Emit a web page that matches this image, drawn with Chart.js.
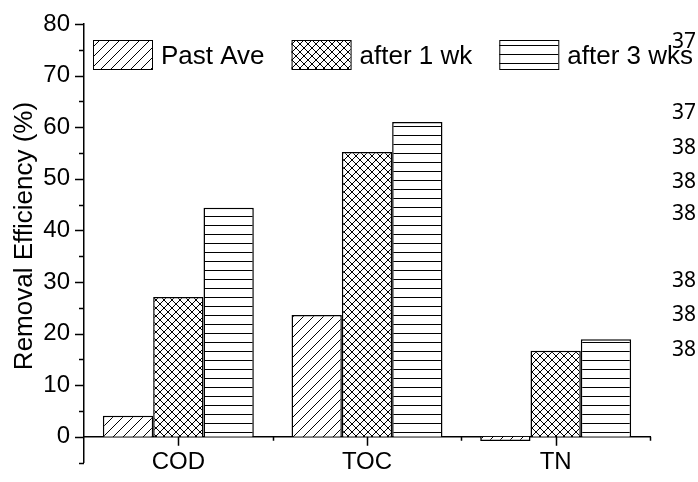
<!doctype html>
<html lang="en">
<head>
<meta charset="utf-8">
<title>Removal Efficiency</title>
<style>
  html, body { margin: 0; padding: 0; background: #fff; }
  canvas { display: block; }
</style>
</head>
<body>
<canvas id="myChart" width="698" height="482"></canvas>
<script src="https://cdn.jsdelivr.net/npm/chart.js@4.4.0/dist/chart.umd.min.js"></script>
<script>
// data
var categories = ['COD', 'TOC', 'TN'];
var seriesNames = ['Past Ave', 'after 1 wk', 'after 3 wks'];
var pastAve = [4.1, 23.6, -0.8];
var after1wk = [27.1, 55.2, 16.7];
var after3wks = [44.4, 61.0, 18.9];
var yTitle = 'Removal Efficiency (%)';
var sideNotes = ['37', '37', '38', '38', '38', '38', '38', '38'];

var FONT = "'Liberation Sans', Arial, sans-serif";

// hatch fills
function makePattern(kind) {
  var c = document.createElement('canvas');
  var g = c.getContext('2d');
  var s = kind === 'diag' ? 10 : (kind === 'cross' ? 8 : 9);
  c.width = s; c.height = s;
  g.fillStyle = '#fff';
  g.fillRect(0, 0, s, s);
  g.strokeStyle = '#000';
  g.fillStyle = '#000';
  g.lineWidth = 1;
  g.beginPath();
  if (kind === 'diag' || kind === 'cross') {
    g.moveTo(0, s); g.lineTo(s, 0);
    g.moveTo(-1, 1); g.lineTo(1, -1);
    g.moveTo(s - 1, s + 1); g.lineTo(s + 1, s - 1);
  }
  if (kind === 'cross') {
    g.moveTo(0, 0); g.lineTo(s, s);
    g.moveTo(-1, s - 1); g.lineTo(1, s + 1);
    g.moveTo(s - 1, -1); g.lineTo(s + 1, 1);
  }
  g.stroke();
  if (kind === 'horiz') {
    g.fillRect(0, 0, s, 1);
  }
  return g.createPattern(c, 'repeat');
}

var fills = [makePattern('diag'), makePattern('cross'), makePattern('horiz')];

var axisTicks = {
  id: 'axisTicks',
  afterDraw: function(chart) {
    var ctx = chart.ctx;
    var xs = chart.scales.x, ys = chart.scales.y;
    var left = chart.chartArea.left;
    var y0 = ys.getPixelForValue(0);
    ctx.save();
    ctx.strokeStyle = '#000';
    ctx.lineWidth = 1.5;
    ctx.beginPath();
    for (var v = ys.min; v <= ys.max; v += 5) {
      var py = Math.round(ys.getPixelForValue(v)) + 0.5;
      var len = v % 10 === 0 ? 9 : 5;
      ctx.moveTo(left - len, py); ctx.lineTo(left, py);
    }
    for (var i = 0; i < categories.length; i++) {
      var px = Math.round(xs.getPixelForValue(i)) + 0.5;
      ctx.moveTo(px, y0); ctx.lineTo(px, y0 + 9);
      var bx = Math.round(xs.getPixelForValue(i + 0.5)) + 0.5;
      ctx.moveTo(bx, y0); ctx.lineTo(bx, y0 + 4);
    }
    ctx.stroke();
    ctx.restore();
  }
};

var yTitlePlugin = {
  id: 'yTitlePlugin',
  afterDraw: function(chart) {
    var ctx = chart.ctx;
    ctx.save();
    ctx.translate(32, 236);
    ctx.rotate(-Math.PI / 2);
    ctx.font = '26px ' + FONT;
    ctx.fillStyle = '#000';
    ctx.textAlign = 'center';
    ctx.textBaseline = 'alphabetic';
    ctx.fillText(yTitle, 0, 0);
    ctx.restore();
  }
};

var hatchLegend = {
  id: 'hatchLegend',
  afterDraw: function(chart) {
    var ctx = chart.ctx;
    var x = 93, top = 40, bw = 59, bh = 29;
    ctx.save();
    ctx.font = '26px ' + FONT;
    ctx.textBaseline = 'alphabetic';
    chart.data.datasets.forEach(function(ds) {
      ctx.fillStyle = ds.backgroundColor;
      ctx.fillRect(x, top, bw, bh);
      ctx.strokeStyle = '#000';
      ctx.lineWidth = 1;
      ctx.strokeRect(x + 0.5, top + 0.5, bw, bh);
      ctx.fillStyle = '#000';
      ctx.fillText(ds.label, x + bw + 9, 64);
      x += bw + 9 + ctx.measureText(ds.label).width + 27;
    });
    ctx.restore();
  }
};

var sideNotePlugin = {
  id: 'sideNotePlugin',
  afterDraw: function(chart) {
    var ctx = chart.ctx;
    var rows = [42, 113, 148, 182, 214, 281, 315, 350];
    ctx.save();
    ctx.font = "21px 'Noto Sans', 'Open Sans', sans-serif";
    ctx.fillStyle = '#000';
    ctx.textBaseline = 'middle';
    sideNotes.forEach(function(t, i) {
      ctx.fillText(t, 672, rows[i]);
    });
    ctx.restore();
  }
};

var ctx = document.getElementById('myChart').getContext('2d');
var chart = new Chart(ctx, {
  type: 'bar',
  data: {
    labels: categories,
    datasets: [
      { label: seriesNames[0], data: pastAve, backgroundColor: fills[0] },
      { label: seriesNames[1], data: after1wk, backgroundColor: fills[1] },
      { label: seriesNames[2], data: after3wks, backgroundColor: fills[2] }
    ]
  },
  options: {
    responsive: false,
    animation: false,
    layout: { padding: { left: 0, right: 48, top: 24, bottom: 12 } },
    datasets: {
      bar: {
        categoryPercentage: 0.8,
        barPercentage: 1.0,
        borderColor: '#000',
        borderWidth: 1.5
      }
    },
    plugins: {
      legend: { display: false },
      tooltip: { enabled: false }
    },
    scales: {
      x: {
        position: { y: 0 },
        offset: true,
        grid: { display: false, drawTicks: true, tickLength: 9 },
        border: { display: true, color: '#000', width: 1.5 },
        ticks: { color: '#000', padding: 2, font: { family: FONT, size: 24 } }
      },
      y: {
        min: -5,
        max: 80,
        grid: { display: false, drawTicks: true, tickLength: 9 },
        border: { display: true, color: '#000', width: 1.5 },
        ticks: {
          stepSize: 5,
          autoSkip: false,
          color: '#000',
          padding: 5,
          font: { family: FONT, size: 24 },
          callback: function(v) { return v % 10 === 0 ? v : ''; }
        },
        afterFit: function(scale) { scale.width = 84; }
      }
    }
  },
  plugins: [axisTicks, yTitlePlugin, hatchLegend, sideNotePlugin]
});
</script>
</body>
</html>
